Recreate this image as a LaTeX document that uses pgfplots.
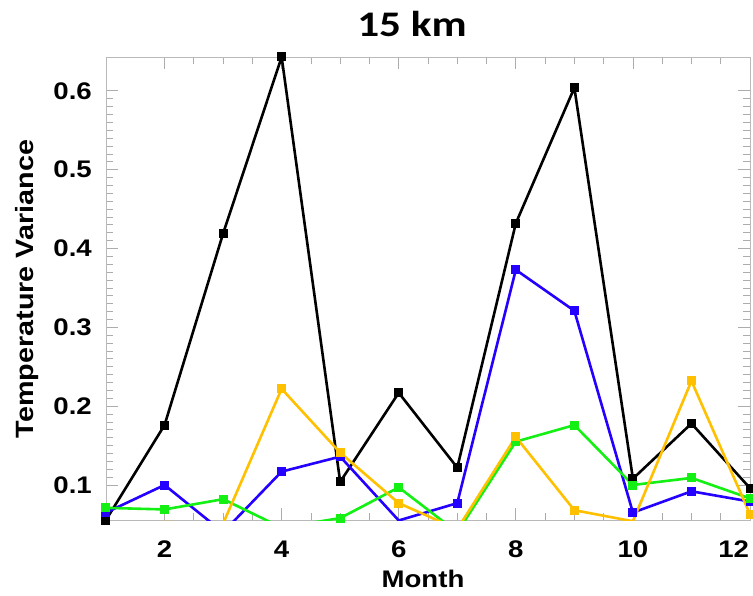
\documentclass[border=0pt]{standalone}
\usepackage{fontspec}
\setmainfont{Liberation Sans}[FakeStretch=1.15]
\newfontfamily\titlefont{Carlito}[FakeStretch=1.2]
\usepackage{pgfplots}
\pgfplotsset{compat=1.18}
\usepackage{pgfplotstable}
\definecolor{cblue}{RGB}{35,0,255}
\definecolor{cgreen}{RGB}{20,240,20}
\definecolor{corange}{RGB}{255,192,0}
\pgfplotstableread{
m v
1 0.0556
2 0.176
3 0.419
4 0.643
5 0.104
6 0.217
7 0.122
8 0.432
9 0.604
10 0.108
11 0.178
12 0.096
}\blackdata
\pgfplotstableread{
m v
1 0.065
2 0.100
3 0.040
4 0.117
5 0.136
6 0.055
7 0.077
8 0.373
9 0.321
10 0.065
11 0.092
12 0.079
}\bluedata
\pgfplotstableread{
m v
1 0.071
2 0.069
3 0.082
4 0.046
5 0.058
6 0.097
7 0.040
8 0.155
9 0.176
10 0.100
11 0.109
12 0.083
}\greendata
\pgfplotstableread{
m v
1 0.045
2 0.053
3 0.051
4 0.222
5 0.141
6 0.077
7 0.044
8 0.161
9 0.068
10 0.054
11 0.232
12 0.063
}\orangedata
\begin{document}
\begin{tikzpicture}
\useasboundingbox (0,0) rectangle (753pt,595pt);
\begin{axis}[
  at={(106pt,75pt)}, anchor=south west,
  scale only axis, width=644pt, height=463pt,
  xmin=1, xmax=12, ymin=0.0556, ymax=0.643,
  xtick={2,4,6,8,10,12}, minor x tick num=3,
  xticklabels={2,4,6,8,10,{\makebox[0pt][r]{12}\hspace*{2pt}}},
  ytick={0.1,0.2,0.3,0.4,0.5,0.6}, minor y tick num=9,
  axis line style={gray!55, line width=0.8pt},
  major tick style={gray!65, line width=0.8pt},
  minor tick style={gray!65, line width=0.8pt},
  major tick length=12pt, minor tick length=7pt,
  tick align=inside,
  /pgf/number format/assume math mode=true,
  yticklabel style={/pgf/number format/fixed, /pgf/number format/precision=1, /pgf/number format/fixed zerofill,
    font=\fontsize{24}{28}\selectfont\bfseries, anchor=east, inner sep=0pt, xshift=-14pt},
  xticklabel style={font=\fontsize{24}{28}\selectfont\bfseries, anchor=base, inner sep=0pt, yshift=-37pt},
  every axis plot/.append style={line width=2.6pt, mark=square*, mark size=3.2pt, mark options={solid}},
]
\addplot[black] table[x=m,y=v] {\blackdata};
\addplot[cblue] table[x=m,y=v] {\bluedata};
\addplot[cgreen] table[x=m,y=v] {\greendata};
\addplot[corange] table[x=m,y=v] {\orangedata};
\end{axis}
\node[anchor=base, font=\titlefont\fontsize{36}{40}\selectfont\bfseries] at (412pt,558pt) {15 km};
\node[anchor=base, font=\fontsize{24}{28}\selectfont\bfseries] at (423pt,8pt) {Month};
\node[anchor=base, rotate=90, font=\fontsize{25}{28}\selectfont\bfseries] at (33pt,306pt) {Temperature Variance};
\end{tikzpicture}
\end{document}
